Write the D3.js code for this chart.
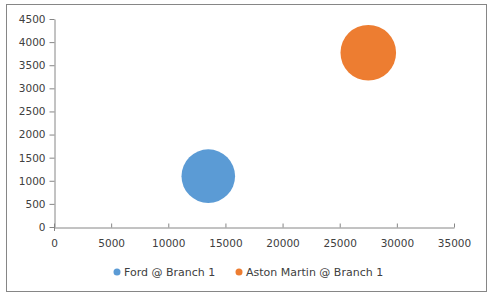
<!DOCTYPE html>
<html>
<head>
<meta charset="utf-8">
<script src="https://cdnjs.cloudflare.com/ajax/libs/d3/7.8.5/d3.min.js"></script>
<style>
  body { margin: 0; background: #fff; }
  svg text { font-family: "DejaVu Sans", sans-serif; font-size: 10.5px; fill: #404040; }
</style>
</head>
<body>
<svg id="chart" width="494" height="298"></svg>
<script>
var w = 494;
var h = 298;

// data
var series = ["Ford @ Branch 1", "Aston Martin @ Branch 1"];
var xValues = [13500, 27500];
var yValues = [1100, 3770];
var sizes = [13, 14];
var colors = ["#5b9bd5", "#ed7d31"];
var xTicks = [0, 5000, 10000, 15000, 20000, 25000, 30000, 35000];
var yTicks = [0, 500, 1000, 1500, 2000, 2500, 3000, 3500, 4000, 4500];

var svg = d3.select("#chart");
var axisColor = "#868686";

// outer frame
svg.append("rect")
    .attr("x", 6.5).attr("y", 4.5)
    .attr("width", 480).attr("height", 287)
    .attr("fill", "none")
    .attr("stroke", axisColor);

var x = d3.scaleLinear().domain([0, 35000]).range([54, 454]);
var y = d3.scaleLinear().domain([0, 4500]).range([227, 19]);
var r = d3.scaleSqrt().domain([0, 14]).range([0, 27.8]);
var fmt = d3.format("d");

//y axis
var yAxis = svg.append("g")
    .attr("transform", "translate(54.5,0)")
    .call(d3.axisLeft(y).tickValues(yTicks).tickFormat(fmt).tickSize(5).tickSizeOuter(0).tickPadding(4));
//x axis, ticks point inward
var xAxis = svg.append("g")
    .attr("transform", "translate(0,227.5)")
    .call(d3.axisBottom(x).tickValues(xTicks).tickFormat(fmt).tickSize(-4).tickSizeOuter(0).tickPadding(12));

[yAxis, xAxis].forEach(a => {
    a.select(".domain").attr("stroke", axisColor);
    a.selectAll(".tick line").attr("stroke", axisColor);
    a.selectAll(".tick text").attr("fill", "#404040").style("font-family", "DejaVu Sans").style("font-size", "10.5px");
});
// little overhang of the y axis below zero
svg.append("line")
    .attr("x1", 54.5).attr("x2", 54.5)
    .attr("y1", 227).attr("y2", 231)
    .attr("stroke", axisColor);

// bubbles
svg.append("g").selectAll("circle")
    .data(series)
    .enter()
    .append("circle")
    .attr("cx", (d, i) => x(xValues[i]))
    .attr("cy", (d, i) => y(yValues[i]))
    .attr("r", (d, i) => r(sizes[i]))
    .attr("fill", (d, i) => colors[i]);

// legend
var legendX = [117, 239];
var legend = svg.append("g").selectAll("g")
    .data(series)
    .enter()
    .append("g")
    .attr("transform", (d, i) => `translate(${legendX[i]},272)`);
legend.append("circle")
    .attr("r", 3.5)
    .attr("fill", (d, i) => colors[i]);
legend.append("text")
    .attr("x", 7)
    .attr("dy", "0.35em")
    .style("font-size", "11px")
    .text(d => d);
</script>
</body>
</html>
